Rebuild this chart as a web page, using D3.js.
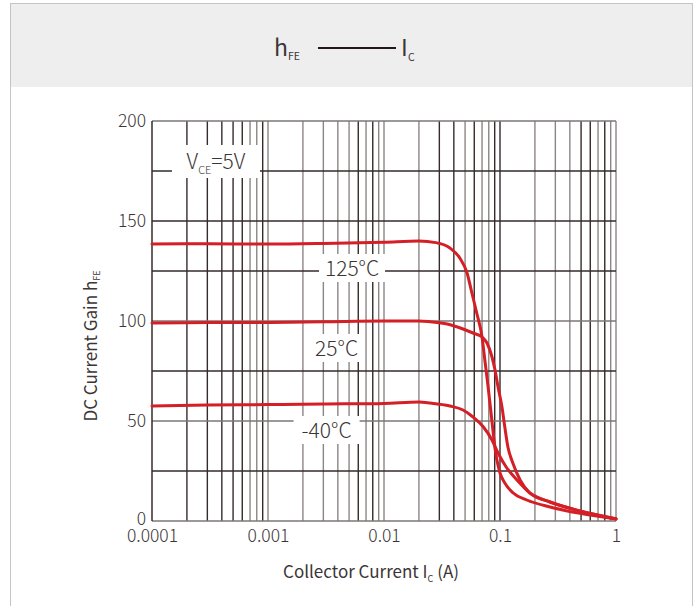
<!DOCTYPE html>
<html>
<head>
<meta charset="utf-8">
<script src="https://cdn.jsdelivr.net/npm/d3@7"></script>
<style>
  body { margin: 0; background: #fff; }
  text { font-family: "Noto Sans CJK SC", "Noto Sans", sans-serif; fill: #3b3536; }
</style>
</head>
<body>
<div id="chart"></div>
<script>
// data
const yTicks = [0, 50, 100, 150, 200]
const xTicks = [0.0001, 0.001, 0.01, 0.1, 1]
const xTickLabels = ["0.0001", "0.001", "0.01", "0.1", "1"]

const current125 = [0.0001, 0.0003, 0.001, 0.003, 0.01, 0.02, 0.028, 0.037, 0.045, 0.052, 0.057, 0.063, 0.07, 0.074, 0.079, 0.085, 0.091, 0.096, 0.1, 0.11, 0.13, 0.17, 0.27, 0.49, 1]
const hfe125 = [138.5, 138.6, 138.5, 138.8, 139.4, 140, 139.2, 136.5, 131.5, 124, 114.5, 104, 92, 80.5, 67, 50.5, 35.5, 28, 24, 19, 14, 10.5, 7, 3.8, 1]

const current25 = [0.0001, 0.0003, 0.001, 0.003, 0.01, 0.02, 0.025, 0.035, 0.048, 0.0585, 0.07, 0.0773, 0.0853, 0.0906, 0.0962, 0.104, 0.11, 0.117, 0.129, 0.149, 0.181, 0.27, 0.49, 1]
const hfe25 = [99, 99.2, 99.3, 99.6, 100, 100, 99.6, 98.5, 96, 94, 92, 89, 82, 75.5, 67, 57, 47, 37, 29, 20.5, 14, 9.5, 5, 1.2]

const currentM40 = [0.0001, 0.0003, 0.001, 0.003, 0.01, 0.02, 0.025, 0.037, 0.048, 0.0585, 0.072, 0.0853, 0.0962, 0.113, 0.14, 0.181, 0.27, 0.49, 1]
const hfeM40 = [57.5, 58, 58.2, 58.5, 58.8, 59.5, 59, 57.5, 55.5, 52, 47, 40.5, 34, 27, 20.5, 14, 9.5, 5, 1]

const tempLabels = ["125°C", "25°C", "-40°C"]
const tempLabelI = [0.0053, 0.0039, 0.0032]
const tempLabelH = [126.5, 86.5, 45.5]

const series = [
  { name: "125°C", current: current125, hfe: hfe125 },
  { name: "25°C", current: current25, hfe: hfe25 },
  { name: "-40°C", current: currentM40, hfe: hfeM40 }
]

// shade of the minor grid lines (2..10 in every decade), d = dark, g = gray
const vShade = [
  "d","d","d","d","d","g","g","d","g",
  "g","g","g","g","d","g","d","g","g",
  "g","d","d","g","d","g","g","d","d",
  "g","g","g","d","d","g","d","g","g"
]
const shadeColor = { d: "#352b2b", g: "#8c8685" }

const W = 699, H = 606
const margin = { top: 121, right: 83, bottom: 85, left: 152 }
const width = W - margin.left - margin.right
const height = H - margin.top - margin.bottom

const root = d3.select("#chart").append("svg")
  .attr("width", W)
  .attr("height", H)

// outer frame + header
root.append("rect")
  .attr("x", 10.5).attr("y", 3.5)
  .attr("width", 682).attr("height", 620)
  .attr("fill", "#fff")
  .attr("stroke", "#c4c4c4")
root.append("rect")
  .attr("x", 11).attr("y", 4)
  .attr("width", 681).attr("height", 83)
  .attr("fill", "#eeeeee")

// title  h_FE ——— I_C
const title = root.append("g").attr("transform", "translate(274,48)")
title.append("text").attr("x", 0).attr("y", 8).attr("font-size", 23).text("h")
title.append("text").attr("x", 14).attr("y", 12).attr("font-size", 10.5).text("FE")
title.append("line")
  .attr("x1", 44).attr("x2", 122).attr("y1", 0).attr("y2", 0)
  .attr("stroke", "#231815").attr("stroke-width", 2.2)
title.append("text").attr("x", 127).attr("y", 8).attr("font-size", 23).text("I")
title.append("text").attr("x", 134).attr("y", 13).attr("font-size", 10.5).text("C")

const svg = root.append("g")
  .attr("transform", "translate(" + margin.left + "," + margin.top + ")")

const xScale = d3.scaleLog()
  .domain([0.0001, 1])
  .range([0, width])

const yScale = d3.scaleLinear()
  .domain([0, 200])
  .range([height, 0])

// vertical grid lines
const minor = []
for (let dec = 0; dec < 4; dec++) {
  for (let k = 2; k <= 10; k++) minor.push(k * Math.pow(10, dec - 4))
}
svg.selectAll(".vgrid")
  .data(minor)
  .join("line")
  .attr("class", "vgrid")
  .attr("x1", d => xScale(d)).attr("x2", d => xScale(d))
  .attr("y1", 0).attr("y2", height)
  .attr("stroke", (d, i) => shadeColor[vShade[i]])
  .attr("stroke-width", 1.4)

// horizontal grid lines every 25
const hLines = d3.range(0, 201, 25)
svg.selectAll(".hgrid")
  .data(hLines)
  .join("line")
  .attr("class", "hgrid")
  .attr("x1", 0).attr("x2", width)
  .attr("y1", d => yScale(d)).attr("y2", d => yScale(d))
  .attr("stroke", d => (d % 50 === 0 && d !== 150) ? "#7d7776" : "#352b2b")
  .attr("stroke-width", 1.4)

// left axis line
svg.append("line")
  .attr("x1", 0).attr("x2", 0).attr("y1", 0).attr("y2", height)
  .attr("stroke", "#352b2b").attr("stroke-width", 1.5)

// axes (labels only)
const yAxis = d3.axisLeft(yScale).tickValues(yTicks).tickSize(0).tickPadding(6)
svg.append("g").call(yAxis)
  .call(g => g.select(".domain").remove())
  .selectAll("text")
  .attr("font-size", 17.5)
  .attr("font-weight", 300)
  .attr("fill", "#3b3536")
  .attr("font-family", "Noto Sans CJK SC, Noto Sans, sans-serif")
  .attr("dy", d => d === 0 ? "0.2em" : "0.32em")

const xAxis = d3.axisBottom(xScale).tickValues(xTicks)
  .tickFormat((d, i) => xTickLabels[i]).tickSize(0).tickPadding(9)
svg.append("g").attr("transform", `translate(0,${height})`).call(xAxis)
  .call(g => g.select(".domain").remove())
  .selectAll("text")
  .attr("font-size", 17.5)
  .attr("font-weight", 300)
  .attr("fill", "#3b3536")
  .attr("font-family", "Noto Sans CJK SC, Noto Sans, sans-serif")

// labels with white boxes
const vce = svg.append("g")
  .attr("transform", `translate(${xScale(0.000356)},${yScale(180)})`)
vce.append("rect").attr("x", -44).attr("y", -16).attr("width", 88).attr("height", 33).attr("fill", "#fff")
const vt = vce.append("text").attr("text-anchor", "middle").attr("y", 8).attr("font-size", 21).attr("font-weight", 300)
vt.append("tspan").text("V")
vt.append("tspan").attr("font-size", 11).attr("dy", 5).text("CE")
vt.append("tspan").attr("dy", -5).text("=5V")

const labelG = svg.selectAll(".tlabel")
  .data(tempLabels)
  .join("g")
  .attr("class", "tlabel")
  .attr("transform", (d, i) => `translate(${xScale(tempLabelI[i])},${yScale(tempLabelH[i])})`)
labelG.append("rect")
  .attr("x", d => -d.length * 6 - 3)
  .attr("y", -14)
  .attr("width", d => d.length * 12 + 6)
  .attr("height", 28)
  .attr("fill", "#fff")
labelG.append("text")
  .attr("text-anchor", "middle")
  .attr("y", 8)
  .attr("font-size", 21)
  .attr("font-weight", 300)
  .text(d => d)

// curves
const line = d3.line()
  .x(d => xScale(d[0]))
  .y(d => yScale(d[1]))
  .curve(d3.curveMonotoneX)

svg.selectAll(".curve")
  .data(series)
  .join("path")
  .attr("class", "curve")
  .attr("d", s => line(s.current.map((c, i) => [c, s.hfe[i]])))
  .attr("fill", "none")
  .attr("stroke", "#d41f26")
  .attr("stroke-width", 3)
  .attr("stroke-linecap", "round")

// axis titles
const yt = root.append("text")
  .attr("transform", "translate(97,346) rotate(-90)")
  .attr("text-anchor", "middle")
  .attr("font-size", 17)
yt.append("tspan").text("DC Current Gain h")
yt.append("tspan").attr("font-size", 9).attr("dy", 3).text("FE")

const xt = root.append("text")
  .attr("x", 371).attr("y", 578)
  .attr("text-anchor", "middle")
  .attr("font-size", 17)
xt.append("tspan").text("Collector Current I")
xt.append("tspan").attr("font-size", 9).attr("dy", 4).text("C")
xt.append("tspan").attr("dy", -4).text(" (A)")
</script>
</body>
</html>
